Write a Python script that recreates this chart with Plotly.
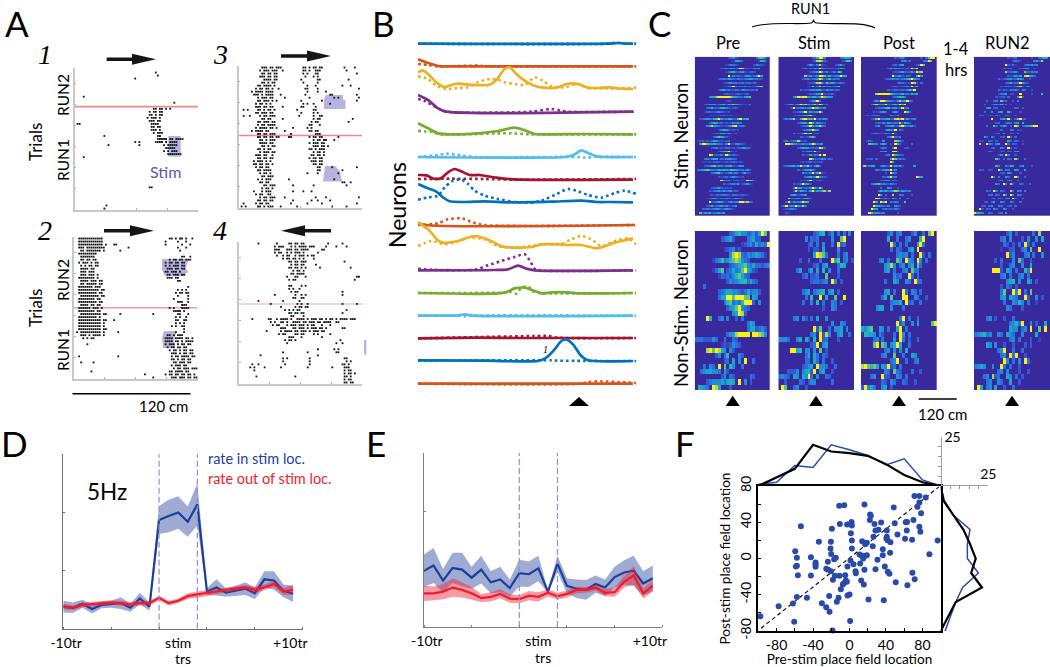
import plotly.graph_objects as go

W, H = 1050, 667
FONT = "Lato"

# ---------- Panel A rasters: "startcol:pattern" per trial row (top to bottom); one col = 2 cm
RASTER_1 = ["", "39:#", "40:#", "29:#", "", "", "", "", "", "4:#", "", "48:#", "",
 "38:##.##.#.#", "36:#.##.##", "36:##.#.##", "35:#.###.#", "36:###.##", "1:## 37:####", "37:##.##", "37:###.#", "38:#.###",
 "14:# 40:##", "40:#####.##.####", "29:# 31:# 39:####.#.####", "16:# 31:# 43:#.#####", "44:#####", "43:#.#.###", "45:#######",
 "4:#", "", "", "", "", "", "", "", "", "", "36:##", "", "", "", "", "", "15:#", "14:#"]
RASTER_3 = ["11:###.##.### 31:##.#.##.## 51:# 56:#", "10:#.###.### 21:# 31:##.# 37:### 52:#", "11:##.##.## 31:#.# 37:## 57:#",
 "10:###.##.## 32:# 36:#.#", "12:####.## 30:# 38:## 53:#", "11:##.#.## 31:# 38:#", "9:##.####.# 33:# 37:# 50:# 54:#",
 "8:#.##.##.# 19:# 32:## 38:# 58:#", "6:#.####.#### 33:# 38:# 42:#", "7:###.#.#### 20:# 32:# 44:## 57:#", "9:#.###.## 22:# 34:# 46:#.# 58:#",
 "9:##.###.#.# 30:# 40:# 57:#", "8:#.##.#.# 31:#.# 36:# 44:#", "8:###.##.## 21:# 30:## 37:#", "2:# 4:# 9:##.#.##.# 28:# 36:##",
 "8:##.###.## 30:# 36:#.#", "2:# 5:# 10:#.##.### 29:# 36:# 39:##", "11:##.## 21:# 36:#.## 55:#", "9:##.###.## 35:#.## 53:#",
 "9:#.##.#### 34:## 39:#", "8:#.####.##.# 26:# 33:#.#", "6:#.####.## 22:# 34:##.##", "9:##.##.### 25:# 37:###",
 "9:##.##.##.## 24:## 34:#.##.## 48:#", "10:##.#.### 36:#.##.## 46:#", "10:####.## 34:#.###.##", "11:##.#.## 36:###.##.#", "9:##.#.## 34:##.#.###",
 "10:#.###.## 36:#.##.#", "8:###.## 16:# 35:##.##.#", "9:##.##.## 34:#.##.##", "7:#.###.#.# 35:###.##", "7:##.##.##.# 36:##.##",
 "8:#.##.## 38:## 45:# 57:#", "9:##.#### 38:## 50:#", "10:#.##.# 33:# 38:# 48:#", "11:##.###", "9:#.#.### 24:# 46:#",
 "10:##.## 14:# 50:## 54:#", "12:##.### 26:# 36:# 52:#", "11:#.##.#", "7:# 11:#.### 26:# 31:# 35:#", "8:#.## 14:##", "10:#.##.### 22:# 37:# 42:# 58:#",
 "9:##.##.## 26:# 35:# 38:# 44:#", "2:# 8:#.##.## 25:# 33:# 40:# 57:#", "1:# 3:# 9:##.#.### 20:# 28:# 45:# 52:#"]
RASTER_2 = ["2:############ 46:##.#.##.# 57:#", "2:############ 44:# 50:# 54:#", "2:############ 15:# 19:## 44:# 52:# 56:#", "2:###.######### 26:# 50:# 54:#",
 "3:##.####### 22:# 14:# 51:#", "2:#########", "3:####### 52:## 56:#", "3:##.##.## 46:#.##.##.###", "2:#.###.#.## 44:#.##.##.##", "3:#.#.##.## 44:#.#.###.##",
 "3:####.## 45:###.##.##", "3:###.### 44:##.###.#", "3:###.###.# 45:##.###.##", "2:########.# 45:###.##", "3:####.###.## 50:##", "3:##.#####.##",
 "2:#######.### 55:#", "2:##########.## 50:#.# 54:#", "2:#########.## 49:#.##.##", "3:#########.## 50:# 55:#", "2:########.## 48:# 55:#", "2:#########.## 50:### 55:#",
 "3:####.##.## 52:###", "2:######.###.# 46:# 48:# 52:####", "2:########.## 48:####.#", "3:##########.## 22:# 38:# 50:## 55:#", "2:#########.# 49:#.# 54:#",
 "2:###########.# 15:# 19:# 49:## 53:##", "2:###########.# 49:#.# 53:#", "2:###########.# 47:#.# 52:##", "2:###########.## 53:#", "1:#.##########.# 21:# 49:# 53:#", "3:###.#.####.# 45:##.#.###",
 "4:#.#.## 44:####.####.##.#", "44:####.##.#.####", "6:# 44:#.###.#.##.##", "45:#.##.##.## 54:#", "46:#.##.#.##.##", "47:###.#.##.##", "2:# 21:# 47:#.##.####.##", "47:##.#.##.##",
 "3:# 9:# 48:##.###.## 55:#", "47:#.###.##", "48:#.##.###.###", "8:# 46:##.####.##", "34:# 44:#.##.##.##.##.#", "38:# 47:###.###.##.##"]
RASTER_4 = ["9:# 18:# 24:##.##.## 43:# 50:#", "17:#.## 21:# 25:#.#.####.## 36:# 42:# 47:# 52:#", "17:### 23:###.##.#### 40:##", "17:#.## 23:#.# 27:###.# 38:#", "18:# 21:#.## 27:#.###.#.##",
 "21:#.##.##.#.# 36:#", "24:##.##.### 51:#", "25:#.##.## 37:#", "24:##.## 30:#.# 39:# 54:#", "26:#.##.#", "25:##.## 30:##", "23:# 27:## 32:# 57:##", "24:#.## 56:#", "",
 "24:## 30:#.#", "24:#.# 29:#", "25:#.## 50:#", "17:# 27:# 30:# 32:# 50:#", "26:## 30:##", "9:# 21:# 29:#", "15:# 28:# 30:# 33:# 50:# 57:#", "20:# 27:#.##.##",
 "22:#.# 26:#.## 52:#", "24:##.##.# 30:## 50:#", "25:## 31:#", "6:# 14:## 18:#.### 23:#.# 28:####.#.## 37:#.##.#.##.# 49:####.###", "15:#.# 20:##.# 26:####.##.###.##.#### 47:##", "16:#.## 23:#.###.###.#.## 40:# 44:#",
 "20:### 26:##.###.#.###.##.# 50:##", "13:# 20:#.####.##.###.#.###.##", "19:#.## 27:##.## 36:#.# 44:#", "24:### 30:# 40:#", "22:# 24:##.# 49:#", "23:# 47:# 50:#", "", "38:# 46:# 48:#",
 "21:# 33:# 47:##", "10:# 38:#", "21:#.# 34:# 51:##", "21:# 34:# 52:#.#", "6:# 9:# 22:# 34:# 50:##.#", "5:# 7:# 12:# 20:# 33:# 45:# 51:###", "7:# 51:#.##", "51:#.##.#", "8:# 27:# 51:##.#", "51:#.##", "51:##.##"]
RUN_SPLIT_TRIALS = [34.2, 24.0, 23.6, 26.5]   # trial index (from bottom) where RUN1 gives way to RUN2

# ---------- Panel B: (position, height) knots per neuron
NEURON_SOLID = [
 [(0,0),(570,0),(600,2),(630,0),(645,0)],
 [(0,21),(30,10),(60,1),(90,0),(645,0)],
 [(0,50),(15,56),(30,45),(55,20),(80,6),(105,14),(125,16),(150,13),(215,13),(235,27),(260,60),(275,65),(295,45),(320,25),(345,11),(375,4),(420,5),(445,15),(480,15),(510,4),(540,3),(575,5),(610,1),(645,0)],
 [(0,50),(30,35),(60,10),(85,0),(645,0)],
 [(0,33),(30,18),(60,3),(100,0),(180,3),(240,10),(290,20),(320,12),(350,1),(380,0),(500,1),(645,0)],
 [(0,0),(440,0),(465,5),(490,20),(510,12),(540,1),(560,0),(645,0)],
 [(0,14),(25,13),(50,2),(70,5),(90,22),(110,32),(130,25),(155,14),(185,14),(235,6),(285,1),(645,0)],
 [(0,55),(30,42),(55,32),(75,15),(95,3),(140,1),(200,3),(280,0),(400,2),(490,5),(540,1),(580,1),(645,0)],
 [(0,7),(20,0),(645,0)],
 [(0,75),(30,55),(60,22),(75,15),(120,20),(170,35),(220,20),(250,4),(290,0),(340,2),(370,10),(420,10),(450,8),(490,8),(540,-2),(590,15),(645,28)],
 [(0,0),(230,1),(270,3),(300,14),(325,5),(350,0),(645,0)],
 [(0,0),(260,1),(290,14),(320,16),(345,8),(370,-1),(400,2),(450,2),(480,-1),(645,0)],
 [(0,0),(120,1),(140,4),(165,0),(645,0)],
 [(0,0),(180,2),(300,1),(645,1)],
 [(0,2),(200,1),(360,0),(385,10),(410,35),(430,60),(445,65),(465,50),(490,15),(510,2),(645,0)],
 [(0,0),(645,0)],
]
NEURON_DOTTED = [
 [(0,0),(570,0),(595,3),(620,0),(655,0)],
 [(0,7),(30,4),(60,0),(180,2),(210,0),(655,0)],
 [(0,38),(30,30),(55,10),(85,0),(120,3),(150,5),(180,20),(215,30),(240,28),(260,20),(290,15),(320,12),(350,35),(375,25),(400,8),(440,5),(480,15),(510,3),(560,2),(600,1),(655,4)],
 [(0,38),(20,32),(60,10),(85,0),(340,0),(400,8),(430,3),(450,0),(655,0)],
 [(0,10),(40,7),(70,0),(250,3),(280,3),(340,0),(655,0)],
 [(0,0),(60,6),(85,10),(130,5),(170,0),(480,0),(500,-2),(530,0),(655,0)],
 [(0,2),(100,3),(200,2),(300,0),(655,2)],
 [(0,8),(30,15),(60,20),(80,45),(105,65),(130,68),(150,55),(170,35),(200,20),(240,10),(290,1),(340,-1),(370,5),(410,22),(450,40),(475,35),(510,22),(550,14),(590,28),(620,35),(655,25)],
 [(0,0),(60,5),(90,17),(130,20),(165,8),(195,0),(655,0)],
 [(0,5),(40,20),(80,10),(120,20),(150,30),(200,25),(240,5),(290,0),(340,5),(380,10),(430,12),(460,25),(490,35),(520,25),(550,5),(590,20),(630,28),(655,10)],
 [(0,5),(40,2),(170,2),(210,15),(250,28),(290,40),(320,48),(335,30),(350,5),(365,0),(655,0)],
 [(0,0),(250,1),(280,3),(295,-2),(310,15),(330,20),(345,5),(370,0),(655,0)],
 [(0,0),(130,0),(145,-2),(165,0),(655,0)],
 [(0,0),(350,7),(390,7),(420,2),(655,1)],
 [(0,1),(400,2),(420,1),(655,0)],
 [(0,0),(490,0),(510,5),(550,7),(600,5),(655,2)],
]
NEURON_COLORS = ["#0072BD","#D95319","#EDB120","#7E2F8E","#77AC30","#4DBEEE","#A2142F"]

# ---------- Panel C heatmaps: "startcol:digits" (0-9 rate) per row
HEAT_STIM_PRE = [
 "14:23421 26:36753","16:15641 27:2652","13:124321 25:24321","11:23435425983212436","13:1356324521232","14:914232135423595","10:2343543243234553422",
 "12:124534234233231","12:12459423342312578","10:24634224325432324","12:13211232123","6:456899999865432567","13:121","4:23545235636575531113","5:34632356421231",
 "4:13322453212","6:121112321211","2:234543679534663279456","6:24652312124353","5:46854321245892342","10:246531212","7:12325635212","8:3576421","1:12312135422123",
 "2:69975564431492145321","7:23412133121235532","10:24679312","6:9823241952321","4:34246513245432","3:111212321121232121","4:23467354245621354","1:34567543465654765434252",
 "7:34673124535214621","10:21231353212","11:953512331219762","12:3123435123521","7:234531212","6:2134535345232","6:12132343213322321","5:1245313243125321",
 "6:9234652135345997842","5:2362345342135","3:32423454235431","2:72546234535"]
HEAT_STIM_STIM = [
 "14:236994 26:34653","14:1389731 27:2574","12:25314821 24:2462","10:231325495323212464","13:23459725124275","11:835234997362345965","10:2342345972462433",
 "12:1224896274652342","12:12724835342357","9:31224545632534232","12:122355921231","6:46989954663597654","13:25693","3:245236978546859723","5:292345345977435",
 "6:2134592534594","6:1232457821","2:2435811689675924353","8:246529625432","9:12359546853","10:2356965","6:31225968123","9:3212573","2:2412348312",
 "3:9975433533697345","8:246552323983","10:32553922","10:3125243929","13:9632354132","9:1212312122","2:2345635945831473","8:31245642",
 "10:5324936921","11:3463595321","9:2125931232","6:21249562","6:4965232596384","6:2836531593546828","5:4642345","4:8325423662","3:2925345976",
 "1:24925495384","2:123432","3:21"]
HEAT_STIM_POST = [
 "14:21341 25:2 27:3799","17:4523 26:34 28:97","13:23145 23:2397","11:3625342132959","13:1224532352978","13:93452132 23:695","10:233534234679543",
 "15:243212982 25:3","12:123212342936","11:312322324759","6:899999754346342646","13:235664","5:25399754325856942","4:369545932564979","6:23346724523934",
 "5:212453 13:352 18:973","2:312343 12:4216","4:2379345623897935234","6:23242532428 17:2642","6:35 10:3456237963452","10:36439 16:42","4:23421253292",
 "11:359324","2:132 9:4 14:8752","3:7654 8:463 12:2 14:953 21:3","8:243 13:49 18:22","8:445 13:992","10:24 13:96432","2:223 6:3 12:5973432","12:96",
 "1:83465 8:3532 12:935362 22:5","6:4324652 12:924","10:2 12:953","9:325934 23:975","8:2354 13:42","4:3467443 11:2432","8:3 11:53 15:2",
 "7:46463468735434","7:95 10:3 13:8 16:43 21:2","6:982342 13:63 16:5 19:3","5:96 8:979 12:4243 18:7","5:9654324 14:532","4:965 9:34232431","3:9745434 15:2"]
HEAT_STIM_RUN2 = [
 "14:2123 24:2 27:3465","16:2431 25:4528","13:92131 21:243534","12:3124 19:2345 25:2","13:823452 21:732434","14:3125 18:35 21:89653","10:312345 16:23653 23:2",
 "13:24623 18:49532","11:2143213 18:782 22:42","10:313214342 20:43 24:2","10:2345 15:22 19:9 24:2 28:6","9:2123 14:3 18:492","5:3 8:34 11:723 16:2 18:4","4:3 7:245 10:3623 15:2","5:45 8:23 12:1 17:32 20:2",
 "4:3 7:5 10:45 14:62 19:2","2:32 6:22 9:32 13:32 17:2","7:9 11:463 14:92 17:3792 21:3","9:23 13:243 17:45 20:5","5:3 8:73 11:364 15:3 17:97 20:3456799","11:3 15:43 18:21","9:23 12:5 15:32 18:4",
 "4:53 7:42 11:23 14:93 17:3","2:21 6:32 9:2 14:53 17:32 20:1","2:8 5:943 9:45 13:93 16:32 20:2","7:23 11:42 14:92 17:2","6:32 11:22 14:32 17:45","10:24 13:94 17:2","9:73 12:3 14:32 17:83 21:3","","9:64 13:42 15:65 19:35 24:2",
 "2:32 6:22 10:94 13:43 17:54 21:5","11:23 14:53 19:2","7:94 10:4 13:53 17:95 21:3","10:24 14:34 18:3","9:43 12:94 15:83 19:32 23:3","","5:32 8:94 11:32 15:83 18:43 21:4","6:34 9:32 12:84 15:94 18:43","7:24 10:32 13:45 16:93 20:3","4:23 7:35 11:43 15:43 19:3","3:23 6:34 10:43 14:23 17:3",
 "2:92 5:32 8:43 12:53 16:2","0:9654 6:32 10:23 13:5"]
HEAT_NON_PRE = [
 "12:2356442342597","9:23452 18:34522","16:1234253439","10:123412","12:4898324345431","6:1346346787432","12:234567435332342","6:1357 11:23534795421","8:13232467532",
 "11:24345663532","3:3","8:234554432353442","8:35 10:599799977 20:54","10:36734369992 22:4","11:24579432","13:45982","4:96 8:34 11:4 14:2 16:3","18:354","18:3552342",
 "11:34589999 20:9987 24:4","0:3332224 7:3 10:3 13:32","9:1212432","4:8979854 12:42","7:24 10:36 15:42","10:23 13:5 15:4 17:9 20:3","3:3 5:43 8:9 10:7 12:64 16:3","2:34554 7:43 10:52",
 "9:24 12:32 19:32","4:234445 10:3565 15:9 17:4 19:2","1:6543 6:98 8:5 12:2"]
HEAT_NON_STIM = [
 "12:2356 17:24 20:3 22:3 24:4","9:4 11:32 13:3 18:4 21:7 22:9","10:23 13:3 15:4 18:3 20:923","10:2 12:22 15:5 20:4","12:5987 16:3 20:3 22:34","7:2 10:3 14:3 18:95 20:7 22:34 25:2","12:23 15:45 20:365",
 "6:35 10:35 13:5 15:6 17:4 20:3","8:23 11:22 13:3 16:7 20:2","11:23 13:32 15:34 18:94 21:2","","8:345 12:3456 17:45 20:2","9:3 11:6 14:9 16:5 19:7 22:9","8:3 11:4 13:6 15:3 18:43 21:2","15:2 18:43","",
 "5:34 8:42 11:3 13:5 16:4","18:4 21:43","12:924 14:7 17:3 19:445 23:4","11:34 14:92 16:84 20:45 24:3","0:444 3:3 6:45 9:53 12:6 14:92 16:3 20:2","11:23 13:9 15:45","4:9956 9:44 12:4 14:7 16:2","9:35 12:53 15:32",
 "9:33 12:53 15:3 18:2","8:23 10:45 13:94 15:43 19:3","3:22 5:24 8:45 10:62 12:9 14:45 18:2","0:3432 5:54 8:54 10:93 13:4 16:32","2:2 7:32 10:24 12:4 18:3","1:97 5:34 9:2"]
HEAT_NON_POST = [
 "9:24 12:34 17:24 21:3 23:79","9:5 12:3 15:34 20:69","10:93 13:3 15:3 19:593","10:3 12:32 16:45 19:9","12:34 14:34 17:3 20:92 23:3","6:34 9:3 12:75 15:94 17:3 19:94 22:3","8:45 10:84 13:34 16:45 19:73",
 "8:45 11:3 14:34 17:73 19:3","11:42 13:3 16:93 19:3","8:3 11:54 15:43 18:93 20:3","","8:45 11:3 14:93 17:43 20:3","7:35 10:7 14:99 18:43 22:2","10:34 12:45 15:92 17:3 20:3","5:45 7:5 10:4 14:3","",
 "13:32 14:9 16:3 19:3","12:92 14:4 17:4 19:5 24:79","0:546 3:7 6:54 9:3 12:52 13:9 15:3","1:65 3:54 6:42 11:3 13:94 16:3","4:34 7:3 11:4 13:93 16:2 19:3","4:79 7:75 10:45 12:9 13:5 16:3","8:34 11:4 13:4 15:5",
 "7:34 11:7 14:3 17:54","10:34 12:9 15:3 18:34","0:8976 4:75 7:54 9:92 11:3 13:3","8:43 11:73 13:2 17:3 20:2","3:34 7:92 9:2 12:43 15:3","7:32 10:43 14:32 18:2","0:2945 4:3 7:45 10:2"]
HEAT_NON_RUN2 = [
 "11:24 14:2 20:3 22:8","9:34 12:4 16:2 18:4 21:4 23:5","10:32 13:2 15:3 17:92 20:3","9:1 12:22 16:34 19:7 22:9","11:92 13:4 17:34 20:3 23:4","7:2 9:3 13:4 15:73 19:2","9:2 12:34 16:4 19:5",
 "6:99 8:92 11:54 14:3 17:63 19:9","9:34 12:3 15:34 18:3","11:456 15:4 18:54 21:2","9:2 11:32 14:2","9:34 10:7 13:94 15:9 17:3 19:7","9:45 12:54 14:3 17:92 21:4 23:2","10:3 13:43 15:64 18:3 21:1","11:43 16:2","",
 "4:34 7:2 10:2 13:3","12:34 14:63 16:9 19:4 21:2 24:5","12:54 14:4 16:34 19:9 22:7 24:9","0:3456 4:34 8:43 11:54 13:3 16:4 21:5","12:34 15:3 19:2 22:1","4:54 7:4 10:2 13:2 17:2 19:2","8:34 10:9 13:3 16:3",
 "9:34 12:93 14:9 17:2","10:94 13:3 15:4 17:93","0:345 3:4 6:4 9:93 12:3 15:2","8:34 11:4 15:2 18:2","3:34 6:82 8:3 11:54 14:3 16:2","4:34 8:43 12:5 15:2","1:95 4:34 7:5 10:2 13:3"]
HEAT_COLORSCALE = [[0, "#382a9c"], [0.11, "#3a40c4"], [0.33, "#2a70e0"], [0.55, "#18a8d0"], [0.72, "#30c0a0"], [0.87, "#a8d050"], [1, "#fbf010"]]

# ---------- Panels D, E: rate per bin
D_BLUE = [.38,.36,.43,.34,.41,.42,.44,.36,.52,.38,1.87,1.94,2.00,1.84,2.14,.64,.71,.62,.65,.69,.61,.85,.83,.65,.60]
D_BLUE_ERR = [.10,.09,.07,.08,.06,.06,.10,.07,.10,.07,.24,.28,.28,.26,.36,.06,.14,.07,.09,.11,.10,.14,.16,.11,.14]
D_RED = [.38,.36,.41,.42,.44,.45,.44,.42,.44,.44,.53,.44,.48,.56,.59,.61,.64,.67,.69,.71,.67,.71,.77,.64,.67]
D_RED_ERR = [.05,.04,.04,.04,.04,.04,.04,.04,.04,.04,.04,.04,.04,.05,.05,.05,.04,.04,.04,.04,.05,.05,.05,.06,.08]
E_BLUE = [.97,1.06,.80,1.02,.99,.85,.99,.77,.82,.67,.93,.91,1.01,.61,1.09,.71,.66,.64,.74,.68,.86,.94,.97,.75,.84]
E_BLUE_ERR = [.28,.30,.20,.26,.29,.19,.24,.19,.22,.15,.23,.22,.22,.02,.14,.13,.16,.17,.15,.14,.18,.21,.26,.21,.22]
E_RED = [.58,.58,.61,.68,.64,.58,.50,.52,.57,.49,.48,.54,.52,.59,.53,.57,.64,.64,.68,.59,.60,.78,.89,.58,.71]
E_RED_ERR = [.13,.12,.13,.16,.13,.11,.07,.08,.08,.07,.07,.08,.08,.06,.06,.06,.06,.05,.05,.06,.08,.10,.16,.09,.10]
STIM_EDGES = [10, 14]
BIN_TICKS = [0, 5, 10, 15, 20, 25]
TR_LABEL_POS = [0.3, 12, 23.7]
TR_LABELS = ["-10tr", "stim", "+10tr"]

# ---------- Panel F
PLACE_PAIRS = [(71.2,69.1),(76.6,69.1),(83.6,67.3),(76.6,61.8),(74.5,57),(-11.3,58.1),(-5.8,58.8),(16.4,59.6),(48.5,56.3),(78.5,50),(22.6,48.5),(23.4,47.1),(22.3,42.6),(27.4,38.2),(34.7,39.7),(-10.6,38.2),(-2.6,37.5),(2.2,40.4),(2.6,36.4),(-53.3,35.7),(-19.3,32.7),(1.5,27.9),(49.6,39),(61.7,40.1),(63.1,40.4),(70.1,42.6),(76.6,34.9),(62.8,30.9),(77.7,29.4),(40.9,30.9),(28.5,30.9),(31.8,31.6),(26.3,23.9),(52.6,26.5),(40.9,23.9),(40.5,22.1),(41.6,20.2),(44.9,18),(60.9,21.7),(68.6,20.6),(96.7,19.9),(-33.6,18.4),(-20.4,18.4),(2.6,19.9),(13.9,19.1),(19,17.3),(17.2,15.8),(25.5,13.6),(2.6,11),(-20.8,11),(-20.1,5.1),(-59.5,8.1),(-42.3,1.5),(-57.7,.7),(36.5,10.3),(36.5,3.7),(44.5,6.3),(87.6,4.8),(10.9,4.4),(13.1,3.3),(17.2,2.9),(19,3.7),(15,0),(-15,.7),(-16.8,-.7),(-23.7,-3.7),(1.1,-2.2),(-37.2,-4.4),(-37.2,-6.6),(30.7,-1.5),(11.7,-5.5),(4.4,-6.3),(-2.2,-8.8),(38.7,-8.8),(-57.7,-8.1),(-58.8,-8.8),(-37.2,-9.2),(-25.5,-11.4),(-23.4,-12.5),(-20.4,-14),(28.5,-11.8),(16.4,-12.5),(42,-14.7),(43.8,-16.9),(6.6,-14),(6.9,-16.2),(69,-15.8),(-42.3,-18.8),(-56.6,-18.4),(-16.1,-19.1),(-10.9,-19.1),(-18.2,-23.5),(-4.7,-18.4),(-4,-24.3),(-2.9,-25.7),(-6.2,-27.2),(12.8,-24.3),(15.7,-28.7),(50.7,-26.1),(71.5,-22.8),(63.5,-29.4),(-7.3,-28.7),(-9.5,-33.8),(0,-39.7),(-2.2,-40.8),(-22.3,-41.5),(-57.7,-42.6),(-46.7,-43.4),(-12,-43.4),(-13.9,-47.8),(20.8,-45.2),(37.6,-46),(-30.3,-49.3),(-25.5,-53.7),(-77.7,-52.6),(-62,-49.6),(-21.9,-58.8),(-97.8,-63.6),(-60.6,-69.9),(.7,-69.1),(-18.6,-79.4)]
HIST_X_BINS = [-100,-80,-60,-40,-20,0,20,40,60,80,100]
HIST_X_BLUE = [.85,1.9,10.4,9.4,20.9,18.4,15.5,10.7,13.8,3.1,0]
HIST_X_BLACK = [0,4.4,8.7,20.9,17.5,16.7,15.3,11.1,5.6,1.9,0]
HIST_Y_BINS = [80,64,48,32,16,0,-16,-32,-48,-64,-80]
HIST_Y_BLUE = [0,1.9,6.6,15.4,14,14,19.8,11.5,7.9,4.9,2.3]
HIST_Y_BLACK = [0,1.4,6.6,11.9,15.4,18.4,16,21.7,7.9,4,0]
DIAG_X = [-97, 98]
DIAG_Y = [-77, 79]
F_TICKS = [-80, -40, 0, 40, 80]
F_TICK_LABELS = ["-80", "-40", "0", "40", "80"]

# ---------- helpers
fx = lambda x: x / W
fy = lambda y: 1 - y / H
fig = go.Figure()
layout = {}
shapes = []
annos = []
axis_n = 0

def new_axes(x0, x1, y0, y1, xopt, yopt):
    """Pixel box (x0..x1, y0 top..y1 bottom)."""
    global axis_n
    axis_n += 1
    s = "" if axis_n == 1 else str(axis_n)
    base = dict(showgrid=False, zeroline=False, automargin=False)
    xa = dict(base, domain=[fx(x0), fx(x1)], anchor="y" + s, **xopt)
    ya = dict(base, domain=[fy(y1), fy(y0)], anchor="x" + s, **yopt)
    layout["xaxis" + s] = xa
    layout["yaxis" + s] = ya
    return "x" + s, "y" + s

def txt(x, y, text, size, color="black", angle=0, xanchor="center", family=FONT, italic=False):
    t = f"<i>{text}</i>" if italic else text
    annos.append(dict(x=fx(x), y=fy(y), xref="paper", yref="paper", text=t, showarrow=False, textangle=angle,
                      xanchor=xanchor, yanchor="middle", font=dict(size=size, color=color, family=family)))

def poly(points, color, layer="above"):
    d = "M " + " L ".join(f"{fx(a):.5f},{fy(b):.5f}" for a, b in points) + " Z"
    shapes.append(dict(type="path", path=d, xref="paper", yref="paper", fillcolor=color, line=dict(width=0), layer=layer))

def hline(x0, x1, y, color="black", width=1.5):
    shapes.append(dict(type="line", xref="paper", yref="paper", x0=fx(x0), x1=fx(x1), y0=fy(y), y1=fy(y), line=dict(color=color, width=width)))

def arrow(x_tail, x_tip, y):
    s = 1 if x_tip > x_tail else -1
    xb = x_tip - s * 24
    poly([(x_tail, y - 1.8), (xb, y - 1.8), (xb, y - 5.5), (x_tip, y), (xb, y + 5.5), (xb, y + 1.8), (x_tail, y + 1.8)], "#151515")

def tri(xc, ytop, ybot, half):
    poly([(xc - half, ybot), (xc, ytop), (xc + half, ybot)], "black")

def parse(rows):
    out = []
    for r in rows:
        cells = {}
        for seg in r.split():
            start, pat = seg.split(":")
            for i, c in enumerate(pat):
                if c != ".":
                    cells[int(start) + i] = c
        out.append(cells)
    return out

# ---------- Panel A
A_BOXES = [(74.5, 198, 68, 210), (238.5, 362, 66, 208), (74, 197.5, 237, 379), (239, 362, 242, 384)]
A_ROWS = [RASTER_1, RASTER_3, RASTER_2, RASTER_4]
A_RED = ["#f08a8a", "#f08a8a", "#f59aa0", "#f8c0c0"]
for box, rows, split, redc in zip(A_BOXES, A_ROWS, RUN_SPLIT_TRIALS, A_RED):
    ax, ay = new_axes(box[0], box[1], box[2], box[3],
        dict(range=[0, 120], showline=True, linecolor="#c8c8c8", linewidth=1.5, ticks="inside", ticklen=2, tickcolor="#b0b0b0", tickvals=[30, 60, 90, 120], showticklabels=False),
        dict(range=[0, 47], showline=True, linecolor="#c8c8c8", linewidth=1.5, ticks="inside", ticklen=2, tickcolor="#b0b0b0", tickvals=[0, 7, 14, 21, 28, 35, 42], showticklabels=False))
    xs, ys = [], []
    for r, cells in enumerate(parse(rows)):
        for c in cells:
            xs.append(c * 2 + 1)
            ys.append(46.5 - r)
    fig.add_trace(go.Scatter(x=[0, 120], y=[split, split], mode="lines", line=dict(color=redc, width=1.6), xaxis=ax, yaxis=ay))
    fig.add_trace(go.Scatter(x=xs, y=ys, mode="markers", marker=dict(symbol="square", size=1.8, color="#111", line=dict(width=0)), xaxis=ax, yaxis=ay, cliponaxis=False))

STIM_C = "#b4b4de"
poly([(168.3, 136), (180.7, 136), (180.7, 156.7), (168.3, 156.7)], STIM_C, "below")
poly([(326, 95), (343, 95), (343, 100), (345.5, 100), (345.5, 109), (324, 109), (324, 99)], STIM_C, "below")
poly([(325, 166), (335, 166), (340, 171), (342, 181.5), (323, 181.5)], STIM_C, "below")
poly([(162, 259), (188.7, 259), (186, 268), (188, 272), (184, 276), (165, 276), (162, 270)], STIM_C, "below")
poly([(164, 331), (176.7, 331), (174, 340), (175, 348), (163, 348), (162, 338)], STIM_C, "below")
poly([(364, 340), (366.3, 340), (366.3, 354.7), (364, 354.7)], STIM_C, "below")

arrow(106.7, 156, 59.3); arrow(281, 331, 56); arrow(104, 154, 230.7); arrow(331, 281, 230.7)
hline(72.5, 190.5, 393.7)
txt(163, 406, "120 cm", 15)
for x, y, s in [(45, 54, "1"), (220, 54, "3"), (45, 230, "2"), (220, 230, "4")]:
    txt(x, y, s, 28, family="Liberation Serif", italic=True)
for yr2, yr1, yt in [(95, 160, 142), (280, 350, 308)]:
    txt(63, yr2, "RUN2", 15.5, angle=-90); txt(63, yr1, "RUN1", 15.5, angle=-90); txt(35, yt, "Trials", 17, angle=-90)
txt(165, 171, "Stim", 16, color="#5858a8")

# ---------- Panel B
SPACING = 68
ax, ay = new_axes(418, 636.3, 30, 395, dict(range=[0, 655], visible=False), dict(range=[-1054, 41], visible=False))
for i, (sol, dot) in enumerate(zip(NEURON_SOLID, NEURON_DOTTED)):
    col = NEURON_COLORS[i % 7]
    fig.add_trace(go.Scatter(x=[p[0] for p in dot], y=[p[1] - SPACING * i for p in dot], mode="lines", xaxis=ax, yaxis=ay, cliponaxis=False,
                             line=dict(color=col, width=2.6, dash="2.6px,3.1px", shape="spline", smoothing=0.7)))
    fig.add_trace(go.Scatter(x=[p[0] for p in sol], y=[p[1] - SPACING * i for p in sol], mode="lines", xaxis=ax, yaxis=ay, cliponaxis=False,
                             line=dict(color=col, width=2.7, shape="spline", smoothing=0.7)))
txt(397, 205, "Neurons", 23, angle=-90)
txt(545.7, 349, "1", 10, family="Liberation Serif", italic=True)
tri(579, 397, 406, 10)

# ---------- Panel C
HEAT_X = [(694.7, 770), (778.3, 854), (861, 936.7), (974, 1050)]
def heat(rows, ncols, box, thin_rows):
    z = []
    for cells in parse(rows):
        line = [0] * ncols
        for c, v in cells.items():
            if c < ncols:
                line[c] = int(v)
        z.append(line)
        if thin_rows:                 # trials are drawn as thin streaks with a dark gap below
            z.append([0] * ncols)
    ax, ay = new_axes(box[0], box[1], box[2], box[3],
                      dict(range=[-0.5, ncols - 0.5], visible=False), dict(range=[len(z) - 0.5, -0.5], visible=False))
    fig.add_trace(go.Heatmap(z=z, zmin=0, zmax=9, colorscale=HEAT_COLORSCALE, showscale=False, xaxis=ax, yaxis=ay))

for rows, xb in zip([HEAT_STIM_PRE, HEAT_STIM_STIM, HEAT_STIM_POST, HEAT_STIM_RUN2], HEAT_X):
    heat(rows, 32, (xb[0], xb[1], 56.7, 216), True)
for rows, xb in zip([HEAT_NON_PRE, HEAT_NON_STIM, HEAT_NON_POST, HEAT_NON_RUN2], HEAT_X):
    heat(rows, 26, (xb[0], xb[1], 231, 390), False)
for x, s in zip([727.7, 814, 899, 1007], ["Pre", "Stim", "Post", "RUN2"]):
    txt(x, 43, s, 16.5)
txt(810.7, 9, "RUN1", 14.5)
txt(956, 49, "1-4", 16.5); txt(956, 70, "hrs", 16.5)
txt(681, 136, "Stim. Neuron", 18.5, angle=-90); txt(681, 313, "Non-Stim. Neuron", 18.5, angle=-90)
for xc in [732.7, 816, 899, 1012]:
    tri(xc, 395.7, 406, 7)
hline(918.7, 956.7, 399)
txt(942.7, 414, "120 cm", 15)
P = lambda a, b: f"{fx(a):.5f},{fy(b):.5f}"
shapes.append(dict(type="path", xref="paper", yref="paper", line=dict(color="black", width=1.1),
    path=f"M {P(752,27)} C {P(768,21)} {P(800,25)} {P(811,23)} Q {P(813,23)} {P(813.5,19.5)} Q {P(814,23)} {P(817,23)} C {P(835,25)} {P(862,21)} {P(875,28)}"))

# ---------- Panels D, E
def rate_panel(box, blue, blue_err, red, red_err, axis_color):
    ax, ay = new_axes(box[0], box[1], box[2], box[3],
        dict(range=[0, 25], showline=True, linecolor=axis_color, linewidth=1.2, tickvals=TR_LABEL_POS, ticktext=TR_LABELS, ticks="",
             tickfont=dict(size=14, family=FONT, color="black"), ticklabelstandoff=1,
             minor=dict(tickvals=BIN_TICKS, ticks="inside", ticklen=2, tickcolor=axis_color),
             title=dict(text="trs", font=dict(size=14, family=FONT, color="black"), standoff=4)),
        dict(range=[0, 3], showline=True, linecolor=axis_color, linewidth=1.2, tickvals=[0, 1, 2, 3], ticks="inside", ticklen=2, tickcolor=axis_color, showticklabels=False))
    idx = list(range(len(blue)))
    for m, e, bandc, linec in [(blue, blue_err, "rgba(40,70,160,0.45)", "#1c3f9e"), (red, red_err, "rgba(240,30,50,0.45)", "#ee1c2e")]:
        up = [a + b for a, b in zip(m, e)]
        lo = [a - b for a, b in zip(m, e)]
        fig.add_trace(go.Scatter(x=idx + idx[::-1], y=up + lo[::-1], fill="toself", fillcolor=bandc, mode="lines", line=dict(width=0), xaxis=ax, yaxis=ay))
        fig.add_trace(go.Scatter(x=idx, y=m, mode="lines", line=dict(color=linec, width=2.2), xaxis=ax, yaxis=ay))
    for e in STIM_EDGES:
        fig.add_trace(go.Scatter(x=[e, e], y=[0, 3.04], mode="lines", line=dict(color="#9090d0", width=1.2, dash="6px,3px"), xaxis=ax, yaxis=ay, cliponaxis=False))

rate_panel((63.3, 302.7, 454.3, 628.7), D_BLUE, D_BLUE_ERR, D_RED, D_RED_ERR, "#707070")
rate_panel((424, 662.3, 453, 627), E_BLUE, E_BLUE_ERR, E_RED, E_RED_ERR, "#808080")
txt(106.7, 491.7, "5Hz", 22.5)
txt(206, 458, "rate in stim loc.", 14.5, color="#1c3f9e", xanchor="left")
txt(206, 478, "rate out of stim loc.", 14.5, color="#ee1c2e", xanchor="left")

# ---------- Panel F
FX0, FX1, FY0, FY1 = 758.3, 940.7, 486, 631
ax, ay = new_axes(FX0, FX1, FY0, FY1,
    dict(range=[-100, 100], showline=True, mirror=True, linecolor="black", linewidth=1.8, tickvals=F_TICKS, ticktext=F_TICK_LABELS, ticks="inside", ticklen=3, tickcolor="black",
         minor=dict(tickvals=list(range(-100, 101, 20)), ticks="inside", ticklen=3, tickcolor="black"),
         tickfont=dict(size=14, family=FONT, color="black"), title=dict(text="Pre-stim place field location", font=dict(size=13.6, family=FONT, color="black"), standoff=2)),
    dict(range=[-80, 80], showline=True, mirror=True, linecolor="black", linewidth=1.8, tickvals=F_TICKS, ticktext=F_TICK_LABELS, ticks="inside", ticklen=3, tickcolor="black",
         minor=dict(tickvals=list(range(-80, 81, 20)), ticks="inside", ticklen=3, tickcolor="black"), tickangle=-90,
         tickfont=dict(size=14, family=FONT, color="black"), title=dict(text="Post-stim place field location", font=dict(size=13.6, family=FONT, color="black"), standoff=3)))
fig.add_trace(go.Scatter(x=DIAG_X, y=DIAG_Y, mode="lines", line=dict(color="black", width=1.1, dash="4px,3px"), xaxis=ax, yaxis=ay))
fig.add_trace(go.Scatter(x=[p[0] for p in PLACE_PAIRS], y=[p[1] for p in PLACE_PAIRS], mode="markers", cliponaxis=False,
                         marker=dict(size=6, color="#2a4aa8", line=dict(width=0)), xaxis=ax, yaxis=ay))
ax, ay = new_axes(FX0, FX1, 436.7, FY0, dict(range=[-100, 100], visible=False),
    dict(range=[0, 25], side="right", showline=True, linecolor="#a0a0a0", linewidth=1, tickvals=[0, 5, 10, 15, 20, 25], ticktext=["", "", "", "", "", "25"], ticks="inside", ticklen=3, tickcolor="#909090",
         tickfont=dict(size=14, family=FONT, color="black")))
fig.add_trace(go.Scatter(x=HIST_X_BINS, y=HIST_X_BLUE, mode="lines", line=dict(color="#2a4aa8", width=1.5), xaxis=ax, yaxis=ay, cliponaxis=False))
fig.add_trace(go.Scatter(x=HIST_X_BINS, y=HIST_X_BLACK, mode="lines", line=dict(color="black", width=2.2), xaxis=ax, yaxis=ay, cliponaxis=False))
ax, ay = new_axes(FX1, 988.3, FY0, FY1,
    dict(range=[0, 25], side="top", showline=True, linecolor="#a0a0a0", linewidth=1, tickvals=[0, 5, 10, 15, 20, 25], ticktext=["", "", "", "", "", "25"], ticks="inside", ticklen=3, tickcolor="#909090",
         tickfont=dict(size=14, family=FONT, color="black")),
    dict(range=[-80, 80], visible=False))
fig.add_trace(go.Scatter(x=HIST_Y_BLUE, y=HIST_Y_BINS, mode="lines", line=dict(color="#2a4aa8", width=1.5), xaxis=ax, yaxis=ay, cliponaxis=False))
fig.add_trace(go.Scatter(x=HIST_Y_BLACK, y=HIST_Y_BINS, mode="lines", line=dict(color="black", width=2.2), xaxis=ax, yaxis=ay, cliponaxis=False))

# ---------- panel letters
for x, y, s in [(17, 23, "A"), (383, 23, "B"), (659, 23, "C"), (14, 443, "D"), (376, 443, "E"), (685, 443, "F")]:
    txt(x, y, s, 35)

fig.update_layout(width=W, height=H, margin=dict(l=0, r=0, t=0, b=0), showlegend=False, paper_bgcolor="white", plot_bgcolor="rgba(0,0,0,0)",
                  shapes=shapes, annotations=annos, font=dict(family=FONT), **layout)
fig.write_html("out.html", config={"displayModeBar": False}, post_script="document.body.style.margin='0';")
